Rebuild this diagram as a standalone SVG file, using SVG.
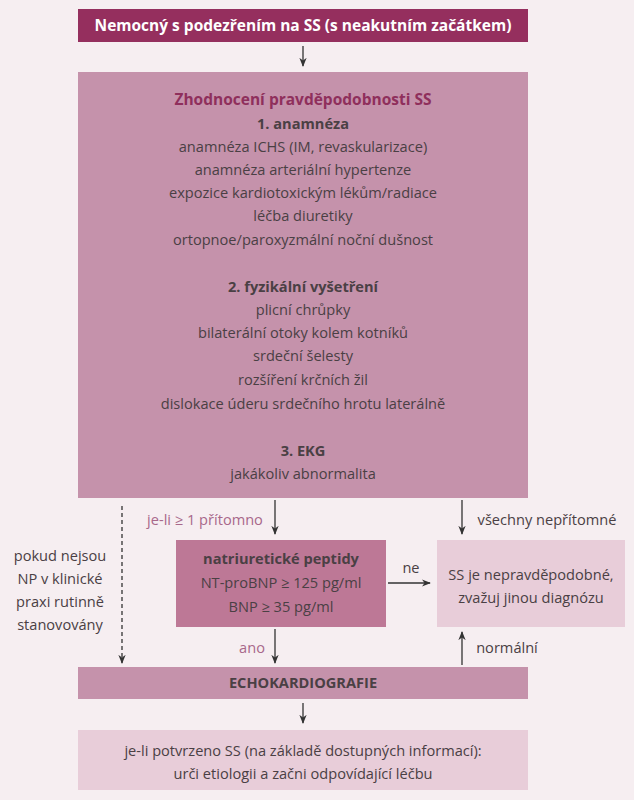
<svg xmlns="http://www.w3.org/2000/svg" width="634" height="800" viewBox="0 0 634 800">
<style>
text{font-family:"Open Sans","Liberation Sans",sans-serif;font-size:14.6px;fill:#4a4044;text-anchor:middle}
.b{font-weight:bold}
.w{fill:#fff;font-weight:bold;font-size:15.5px}
.t{fill:#8f2f5c;font-weight:bold;font-size:15.5px}
.l{fill:#a8688a}
.c{stroke:#333;stroke-width:1.3;fill:none;marker-end:url(#a)}
</style>
<defs><marker id="a" viewBox="0 0 10 10" refX="9" refY="5" markerWidth="7" markerHeight="7" orient="auto"><path d="M0,1 L10,5 L0,9 L3,5 z" fill="#333"/></marker></defs>
<rect width="634" height="800" fill="#f6eef1"/>
<g id="start"><rect x="78" y="9" width="450" height="33" fill="#952f5e"/><text class="w" x="303" y="31">Nemocný s podezřením na SS (s neakutním začátkem)</text></g>
<g id="assess"><rect x="78" y="72" width="450" height="426" fill="#c592ab"/>
<text class="t" x="303" y="105">Zhodnocení pravděpodobnosti SS</text>
<text class="b" x="303" y="129">1. anamnéza</text>
<text x="303" y="152">anamnéza ICHS (IM, revaskularizace)</text>
<text x="303" y="175">anamnéza arteriální hypertenze</text>
<text x="303" y="198">expozice kardiotoxickým lékům/radiace</text>
<text x="303" y="221">léčba diuretiky</text>
<text x="303" y="245">ortopnoe/paroxyzmální noční dušnost</text>
<text class="b" x="303" y="292">2. fyzikální vyšetření</text>
<text x="303" y="315">plicní chrůpky</text>
<text x="303" y="338">bilaterální otoky kolem kotníků</text>
<text x="303" y="361">srdeční šelesty</text>
<text x="303" y="385">rozšíření krčních žil</text>
<text x="303" y="409">dislokace úderu srdečního hrotu laterálně</text>
<text class="b" x="303" y="456">3. EKG</text>
<text x="303" y="479">jakákoliv abnormalita</text></g>
<g id="np"><rect x="176" y="540" width="210" height="87" fill="#bd7896"/>
<text class="b" x="281" y="564">natriuretické peptidy</text>
<text x="281" y="588">NT-proBNP ≥ 125 pg/ml</text>
<text x="281" y="612">BNP ≥ 35 pg/ml</text></g>
<g id="unlikely"><rect x="437" y="540" width="188" height="87" fill="#e8cdd9"/>
<text x="531" y="580">SS je nepravděpodobné,</text>
<text x="531" y="603">zvažuj jinou diagnózu</text></g>
<g id="echo"><rect x="78" y="667" width="450" height="32" fill="#c592ab"/><text class="b" x="303" y="688">ECHOKARDIOGRAFIE</text></g>
<g id="end"><rect x="78" y="730" width="450" height="60" fill="#e8cdd9"/>
<text x="303" y="756">je-li potvrzeno SS (na základě dostupných informací):</text>
<text x="303" y="779">urči etiologii a začni odpovídající léčbu</text></g>
<g id="note"><text x="60" y="561">pokud  nejsou</text><text x="60" y="584">NP v klinické</text><text x="60" y="607">praxi rutinně</text><text x="60" y="630">stanovovány</text></g>
<g id="connectors">
<path class="c" d="M303,46 V66"/>
<path class="c" d="M275,500 V534"/>
<path class="c" d="M462,500 V534"/>
<path class="c" d="M122,506 V663" stroke-dasharray="4,3"/>
<path class="c" d="M388,583 H430"/>
<path class="c" d="M275,629 V663"/>
<path class="c" d="M462,665 V632"/>
<path class="c" d="M303,703 V723"/>
</g>
<g id="labels">
<text class="l" x="205" y="525">je-li ≥ 1 přítomno</text>
<text x="547" y="525">všechny nepřítomné</text>
<text x="411" y="573">ne</text>
<text class="l" x="252" y="653">ano</text>
<text x="507" y="653">normální</text>
</g>
</svg>
